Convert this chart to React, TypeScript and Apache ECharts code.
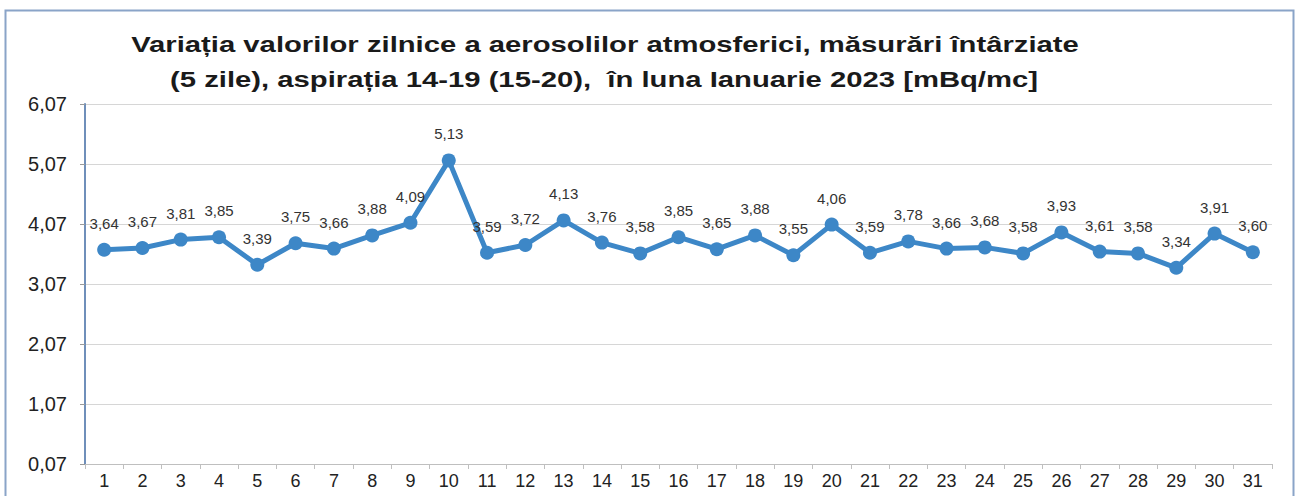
import React, { useEffect, useRef } from "react";
import * as echarts from "echarts";

const titleLines = [
  "Variația valorilor zilnice a aerosolilor atmosferici, măsurări întârziate",
  "(5 zile), aspirația 14-19 (15-20),  în luna Ianuarie 2023 [mBq/mc]",
];
const days = [
  "1", "2", "3", "4", "5", "6", "7", "8", "9", "10", "11", "12", "13", "14", "15", "16",
  "17", "18", "19", "20", "21", "22", "23", "24", "25", "26", "27", "28", "29", "30", "31",
];
const values = [
  3.64, 3.67, 3.81, 3.85, 3.39, 3.75, 3.66, 3.88, 4.09, 5.13, 3.59, 3.72, 4.13, 3.76, 3.58, 3.85,
  3.65, 3.88, 3.55, 4.06, 3.59, 3.78, 3.66, 3.68, 3.58, 3.93, 3.61, 3.58, 3.34, 3.91, 3.6,
];
const yMin = 0.07;
const yMax = 6.07;
const yStep = 1;

const fmt = (v: number) => v.toFixed(2).replace(".", ",");
const FONT = "Liberation Sans, Arial, sans-serif";

export default function App() {
  const ref = useRef<HTMLDivElement>(null);
  useEffect(() => {
    if (!ref.current) return;
    const chart = echarts.init(ref.current, undefined, { renderer: "svg" });
    chart.setOption({
      animation: false,
      backgroundColor: "#ffffff",
      graphic: [
        {
          type: "rect",
          shape: { x: 5.5, y: 10.5, width: 1288, height: 500 },
          style: { fill: "none", stroke: "#8aa4c8", lineWidth: 2 },
          silent: true,
          z: -1,
        },
        {
          type: "text",
          x: 605,
          y: 44,
          scaleX: 1.33,
          style: {
            text: titleLines[0],
            fontFamily: FONT,
            fontWeight: "bold",
            fontSize: 22,
            fill: "#1a1a1a",
            textAlign: "center",
            textVerticalAlign: "middle",
          },
        },
        {
          type: "text",
          x: 604,
          y: 79,
          scaleX: 1.33,
          style: {
            text: titleLines[1],
            fontFamily: FONT,
            fontWeight: "bold",
            fontSize: 22,
            fill: "#1a1a1a",
            textAlign: "center",
            textVerticalAlign: "middle",
          },
        },
      ],
      grid: { left: 85, right: 26, top: 104, bottom: 32, containLabel: false },
      xAxis: {
        type: "category",
        data: days,
        boundaryGap: true,
        axisLine: { lineStyle: { color: "#bfbfbf", width: 1 } },
        axisTick: { show: true, alignWithLabel: false, length: 5, lineStyle: { color: "#bfbfbf" } },
        axisLabel: {
          fontFamily: FONT,
          fontSize: 18,
          color: "#222",
          margin: 8,
        },
      },
      yAxis: {
        type: "value",
        min: yMin,
        max: yMax,
        interval: yStep,
        axisLine: { show: true, lineStyle: { color: "#6f8fba", width: 2 } },
        axisTick: { show: true, length: 5, lineStyle: { color: "#9a9a9a" } },
        splitLine: { show: true, lineStyle: { color: "#d6d6d6", width: 1 } },
        axisLabel: {
          fontFamily: FONT,
          fontSize: 20,
          color: "#222",
          margin: 18,
          formatter: (v: number) => fmt(v),
        },
      },
      series: [
        {
          type: "line",
          data: values,
          symbol: "circle",
          symbolSize: 14,
          lineStyle: { color: "#3d87c7", width: 5 },
          itemStyle: { color: "#3d87c7" },
          label: {
            show: true,
            position: "top",
            distance: 12,
            fontFamily: FONT,
            fontSize: 15,
            color: "#333",
            formatter: (p: any) => fmt(p.value),
          },
        },
      ],
    });
    return () => chart.dispose();
  }, []);
  return (
    <div
      ref={ref}
      style={{ position: "fixed", left: 0, top: 0, width: 1298, height: 496 }}
    />
  );
}
